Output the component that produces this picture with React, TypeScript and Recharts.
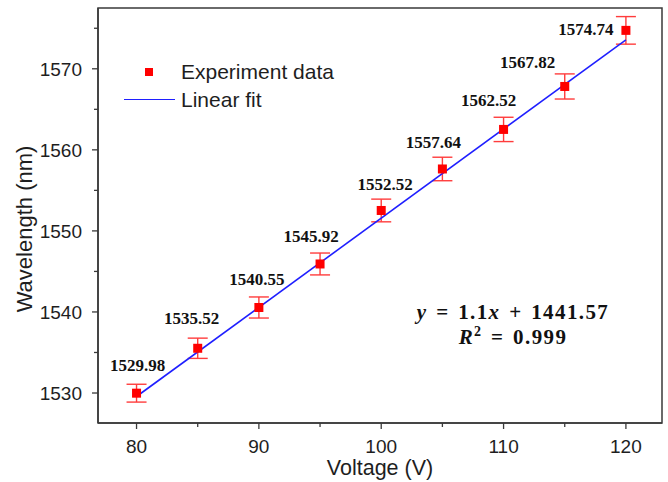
import React from 'react';
import { ComposedChart, XAxis, YAxis, Scatter, ErrorBar, ReferenceArea } from 'recharts';

const voltage = [80, 85, 90, 95, 100, 105, 110, 115, 120];
const wavelength = [1529.98, 1535.52, 1540.55, 1545.92, 1552.52, 1557.64, 1562.52, 1567.82, 1574.74];
const errors = [1.1, 1.25, 1.3, 1.35, 1.4, 1.45, 1.5, 1.55, 1.7];
const fitX = [80, 120];
const fitY = [1529.57, 1573.57];
const xTicks = [80, 85, 90, 95, 100, 105, 110, 115, 120];
const yTicks = [1530, 1535, 1540, 1545, 1550, 1555, 1560, 1565, 1570, 1575];
const X_DOMAIN: [number, number] = [76.85, 122.95];
const Y_DOMAIN: [number, number] = [1526.3, 1577.5];

const data = voltage.map((v, i) => ({ x: v, y: wavelength[i], err: errors[i] }));
const fitData = fitX.map((v, i) => ({ x: v, y: fitY[i] }));

// label placement (style): [dx of text centre, dy of baseline] relative to marker centre
const LABEL_OFFSETS: [number, number][] = [
  [1, -22], [-6, -24], [-2, -22], [-9, -22], [4, -20], [-9, -21], [-15, -23], [-37, -18], [-40, 5],
];

const AXIS = '#3a3a3a';
const TEXT = '#1e1e1e';
const SANS = 'Arial, "Liberation Sans", sans-serif';
const SERIF = '"Times New Roman", "Liberation Serif", serif';

const XTick = (props: any) => {
  const { x, y, payload } = props;
  const major = payload.value % 10 === 0;
  return (
    <g>
      <line x1={x} x2={x} y1={y} y2={y + (major ? 6 : 4)} stroke={AXIS} strokeWidth={1.3} />
      {major && (
        <text x={x} y={y + 30} textAnchor="middle" fontSize={19} fontFamily={SANS} fill={TEXT}>
          {payload.value}
        </text>
      )}
    </g>
  );
};

const YTick = (props: any) => {
  const { x, y, payload } = props;
  const major = payload.value % 10 === 0;
  return (
    <g>
      <line x1={x - (major ? 6 : 4)} x2={x} y1={y} y2={y} stroke={AXIS} strokeWidth={1.3} />
      {major && (
        <text x={82} y={y + 7} textAnchor="end" fontSize={19} fontFamily={SANS} fill={TEXT}>
          {payload.value}
        </text>
      )}
    </g>
  );
};

const Square = (props: any) => {
  const { cx, cy } = props;
  if (cx == null || cy == null) return <g />;
  return <rect x={cx - 4.5} y={cy - 4.5} width={9} height={9} fill="#ff0000" />;
};

const ValueLabel = (props: any) => {
  const { cx, cy, payload } = props;
  if (cx == null || cy == null) return <g />;
  const i = voltage.indexOf(payload.x);
  const [dx, dy] = LABEL_OFFSETS[i] || [0, -22];
  return (
    <text x={cx + dx} y={cy + dy} textAnchor="middle" fontSize={17} fontWeight="bold" fontFamily={SERIF} fill="#111">
      {payload.y.toFixed(2)}
    </text>
  );
};

export default function App() {
  return (
    <div style={{ position: 'absolute', left: 0, top: 0, width: 668, height: 482, background: '#fff' }}>
      <ComposedChart width={668} height={482} margin={{ top: 8, right: 6, left: 0, bottom: 0 }}>
        <XAxis
          dataKey="x"
          type="number"
          domain={X_DOMAIN}
          allowDataOverflow
          ticks={xTicks}
          height={59}
          tickLine={false}
          tickSize={0}
          tickMargin={0}
          tick={<XTick />}
          axisLine={{ stroke: AXIS, strokeWidth: 1.5 }}
        />
        <YAxis
          dataKey="y"
          type="number"
          domain={Y_DOMAIN}
          allowDataOverflow
          ticks={yTicks}
          width={98}
          tickLine={false}
          tickSize={0}
          tickMargin={0}
          tick={<YTick />}
          axisLine={{ stroke: AXIS, strokeWidth: 1.5 }}
        />
        <ReferenceArea
          x1={X_DOMAIN[0]}
          x2={X_DOMAIN[1]}
          y1={Y_DOMAIN[0]}
          y2={Y_DOMAIN[1]}
          fill="none"
          fillOpacity={0}
          stroke={AXIS}
          strokeWidth={1.5}
          ifOverflow="visible"
        />
        <Scatter
          data={fitData}
          dataKey="y"
          line={{ stroke: '#1f1fff', strokeWidth: 1.6 }}
          shape={() => <g />}
          isAnimationActive={false}
          legendType="line"
        />
        <Scatter data={data} dataKey="y" shape={<Square />} isAnimationActive={false}>
          <ErrorBar dataKey="err" direction="y" width={10} stroke="#ff3c3c" strokeWidth={1.4} />
        </Scatter>
        <Scatter data={data} dataKey="y" shape={<ValueLabel />} isAnimationActive={false} legendType="none" />
      </ComposedChart>

      {/* legend */}
      <div style={{ position: 'absolute', left: 145, top: 68, width: 8, height: 8, background: '#ff0000' }} />
      <div style={{ position: 'absolute', left: 181, top: 59, fontSize: 21, fontFamily: SANS, color: TEXT, lineHeight: '26px', whiteSpace: 'nowrap' }}>
        Experiment data
      </div>
      <div style={{ position: 'absolute', left: 124, top: 99, width: 51, height: 0, borderTop: '1.6px solid #1f1fff' }} />
      <div style={{ position: 'absolute', left: 181, top: 87, fontSize: 21, fontFamily: SANS, color: TEXT, lineHeight: '26px', whiteSpace: 'nowrap' }}>
        Linear fit
      </div>

      {/* equation */}
      <div style={{ position: 'absolute', left: 403, top: 300, width: 220, textAlign: 'center', fontSize: 21, fontWeight: 'bold', fontFamily: SERIF, color: '#111', lineHeight: '25px', whiteSpace: 'nowrap', letterSpacing: '1.4px', wordSpacing: '2px' }}>
        <div><i>y</i> = 1.1<i>x</i> + 1441.57</div>
        <div><i>R</i><sup style={{ fontSize: 14, lineHeight: 0 }}>2</sup> = 0.999</div>
      </div>

      {/* axis titles */}
      <div style={{ position: 'absolute', left: 280, top: 457, width: 200, textAlign: 'center', fontSize: 21.5, fontFamily: SANS, color: TEXT, lineHeight: '22px' }}>
        Voltage (V)
      </div>
      <div style={{ position: 'absolute', left: 25 - 100, top: 229 - 14, width: 200, height: 28, textAlign: 'center', fontSize: 22, fontFamily: SANS, color: TEXT, lineHeight: '28px', transform: 'rotate(-90deg)' }}>
        Wavelength (nm)
      </div>
    </div>
  );
}
